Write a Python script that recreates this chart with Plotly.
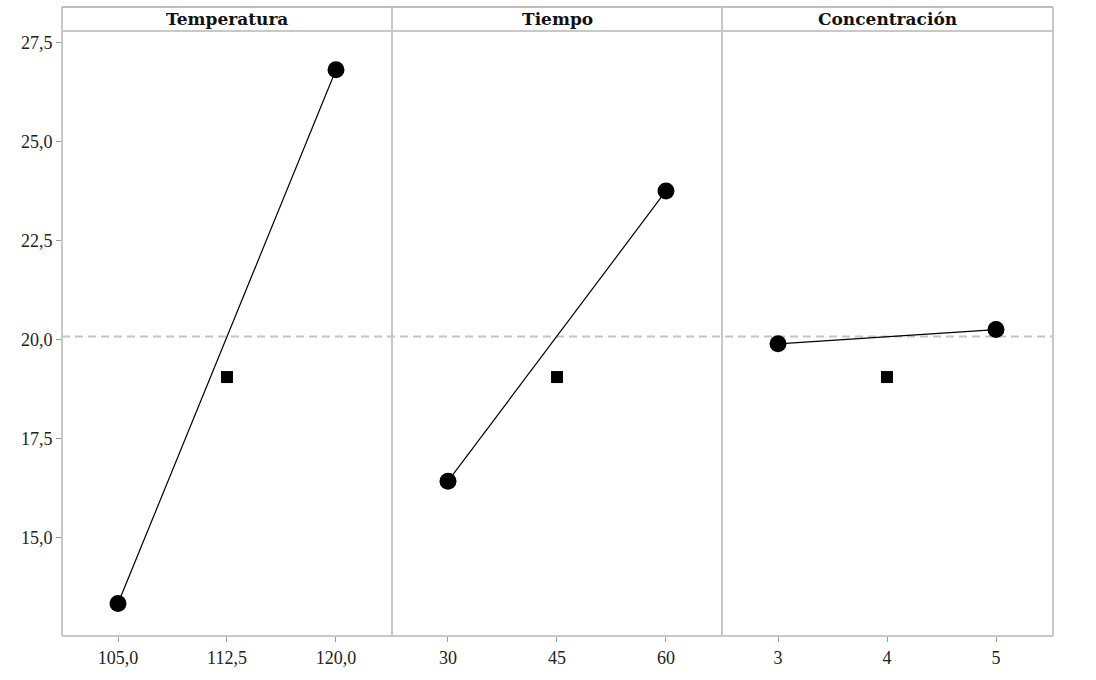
import plotly.graph_objects as go

# ---- data ----
factors = ["Temperatura", "Tiempo", "Concentración"]
temp_levels = [105.0, 120.0]
temp_means = [13.33, 26.81]
tiempo_levels = [30, 60]
tiempo_means = [16.42, 23.75]
conc_levels = [3, 5]
conc_means = [19.89, 20.25]
center_levels = [112.5, 45, 4]
center_mean = 19.05
grand_mean = 20.075

temp_ticks = [105.0, 112.5, 120.0]
tiempo_ticks = [30, 45, 60]
conc_ticks = [3, 4, 5]
y_ticks = [15.0, 17.5, 20.0, 22.5, 25.0, 27.5]

W, H = 1096, 680
ML, MR, MT, MB = 62, 43, 31, 42
plot_h = H - MT - MB
plot_w = W - ML - MR
strip_h = 24
strip_top = 1 + strip_h / plot_h

FONT = "Liberation Serif"
TITLE_FONT = "DejaVu Serif"
GRID = "#c8c8c8"

d1 = 330 / plot_w
d2 = 660 / plot_w
domains = [[0, d1], [d1, d2], [d2, 1]]
xranges = [[101.147, 123.854], [22.294, 67.71], [2.486, 5.523]]
xticks = [temp_ticks, tiempo_ticks, conc_ticks]
xfmt = [".1f", "d", "d"]

levels = [temp_levels, tiempo_levels, conc_levels]
means = [temp_means, tiempo_means, conc_means]

fig = go.Figure()
for i in range(3):
    xa = "x" if i == 0 else f"x{i+1}"
    ya = "y" if i == 0 else f"y{i+1}"
    fig.add_trace(go.Scatter(
        x=levels[i], y=means[i], mode="lines+markers", xaxis=xa, yaxis=ya,
        line=dict(color="black", width=1.2),
        marker=dict(symbol="circle", size=17, color="black"),
        showlegend=False, hoverinfo="x+y"))
    fig.add_trace(go.Scatter(
        x=[center_levels[i]], y=[center_mean], mode="markers", xaxis=xa, yaxis=ya,
        marker=dict(symbol="square", size=12, color="black"),
        showlegend=False, hoverinfo="x+y"))

layout = dict(
    width=W, height=H,
    margin=dict(l=ML, r=MR, t=MT, b=MB, pad=0),
    paper_bgcolor="white", plot_bgcolor="white",
    separators=",.",
    font=dict(family=FONT, size=18, color="#222222"),
    showlegend=False,
)
for i in range(3):
    xk = "xaxis" if i == 0 else f"xaxis{i+1}"
    yk = "yaxis" if i == 0 else f"yaxis{i+1}"
    layout[xk] = dict(
        domain=domains[i], range=xranges[i], anchor="y" if i == 0 else f"y{i+1}",
        tickmode="array", tickvals=xticks[i], tickformat=xfmt[i],
        ticks="outside", ticklen=5, tickwidth=1, tickcolor="#9a9a9a",
        showgrid=False, zeroline=False, showline=False,
        tickfont=dict(family=FONT, size=18, color="#222222"),
    )
    layout[yk] = dict(
        domain=[0, 1], range=[12.51, 27.79],
        anchor="x" if i == 0 else f"x{i+1}",
        tickmode="array", tickvals=y_ticks, tickformat=".1f",
        ticks="outside" if i == 0 else "", ticklen=5, tickwidth=1, tickcolor="#9a9a9a",
        showticklabels=(i == 0),
        showgrid=False, zeroline=False, showline=False,
        tickfont=dict(family=FONT, size=18, color="#222222"),
    )
    if i > 0:
        layout[yk]["matches"] = "y"
fig.update_layout(**layout)

shapes = []
# mean dashed reference line
shapes.append(dict(type="line", xref="paper", yref="y", x0=0, x1=1,
                   y0=grand_mean, y1=grand_mean, layer="below",
                   line=dict(color="#c4c4c4", width=2, dash="8px,5px")))
# frame: left, bottom, right
shapes.append(dict(type="line", xref="paper", yref="paper", x0=0, x1=0, y0=0, y1=strip_top,
                   line=dict(color=GRID, width=2)))
shapes.append(dict(type="line", xref="paper", yref="paper", x0=0, x1=1, y0=0, y1=0,
                   line=dict(color=GRID, width=2)))
shapes.append(dict(type="line", xref="paper", yref="paper", x0=1, x1=1, y0=0, y1=strip_top,
                   line=dict(color=GRID, width=2)))
# top border
shapes.append(dict(type="line", xref="paper", yref="paper", x0=0, x1=1, y0=strip_top, y1=strip_top,
                   line=dict(color="#a8a8a8", width=1.5)))
# strip bottom line
shapes.append(dict(type="line", xref="paper", yref="paper", x0=0, x1=1, y0=1, y1=1,
                   line=dict(color=GRID, width=2)))
# panel separators
for d in (d1, d2):
    shapes.append(dict(type="line", xref="paper", yref="paper", x0=d, x1=d, y0=0, y1=strip_top,
                       line=dict(color=GRID, width=2)))
fig.update_layout(shapes=shapes)

annotations = []
for i, name in enumerate(factors):
    annotations.append(dict(
        text=f"<b>{name}</b>", xref="paper", yref="paper",
        x=(domains[i][0] + domains[i][1]) / 2, y=(1 + strip_top) / 2,
        xanchor="center", yanchor="middle", showarrow=False,
        font=dict(family=TITLE_FONT, size=17, color="#111111")))
fig.update_layout(annotations=annotations)

fig.write_html("out.html")
